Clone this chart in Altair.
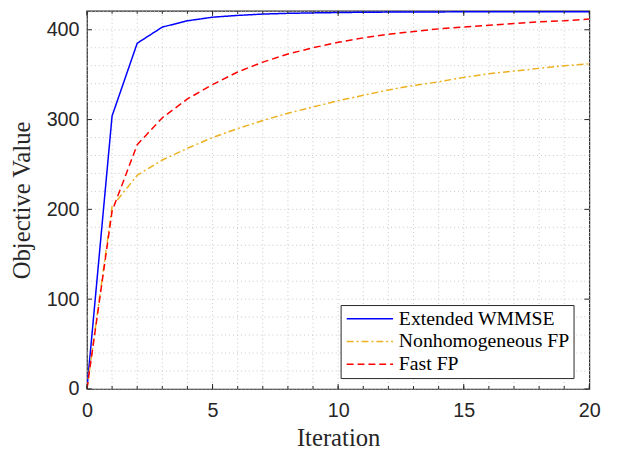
import altair as alt
import pandas as pd

iterations = list(range(21))
wmmse = [0, 304, 385, 403, 410, 414, 416, 417.5, 418.3, 418.8, 419.2, 419.5, 419.7, 419.8, 419.9, 420, 420, 420, 420, 420, 420]
nonhom = [0, 203, 238, 255, 268, 280, 290, 299, 307, 314, 321, 327, 333, 338, 342, 347, 351, 354, 357, 360, 362]
fastfp = [0, 198, 272, 302, 323, 339, 353, 364, 373, 380, 386, 391, 395, 398, 401, 403, 405, 407, 409, 410, 412]

series_names = ["Extended WMMSE", "Nonhomogeneous FP", "Fast FP"]
series_colors = ["#0000FF", "#EDB120", "#FF0000"]
series_dashes = [[1, 0], [7, 3, 2, 3], [7, 4]]

x_major = [0, 5, 10, 15, 20]
x_minor = list(range(21))
y_major = [0, 100, 200, 300, 400]
y_minor = list(range(0, 421, 20))

W, H = 509, 383

rows = []
for name, vals in zip(series_names, [wmmse, nonhom, fastfp]):
    for i, v in zip(iterations, vals):
        rows.append({"Iteration": i, "Value": v, "Series": name})
df = pd.DataFrame(rows)

xscale = alt.Scale(domain=[0, 20], nice=False, zero=False)
yscale = alt.Scale(domain=[0, 421], nice=False, zero=False)

tick_font = "Liberation Sans"
serif = "Liberation Serif"

x_axis = alt.Axis(values=x_major, grid=False, ticks=False, domain=False, labelFlush=False,
                  labelOverlap=False,
                  labelFont=tick_font, labelFontSize=20, labelColor="#262626",
                  labelPadding=12, title="Iteration", titleFont=serif,
                  titleFontSize=25, titleFontWeight="normal", titleColor="#262626",
                  titlePadding=5)
y_axis = alt.Axis(values=y_major, grid=False, ticks=False, domain=False, labelOverlap=False,
                  labelFont=tick_font, labelFontSize=20, labelColor="#262626",
                  labelPadding=8, title="Objective Value", titleFont=serif,
                  titleFontSize=25, titleFontWeight="normal", titleColor="#262626",
                  titlePadding=12)

legend_cfg = dict(orient="none", legendX=257, legendY=298, title=None,
                  symbolType="M-1,0H5", symbolSize=245,
                  symbolStrokeWidth=1.5, labelFont=serif,
                  labelFontSize=20, labelColor="#000000",
                  fillColor="white", strokeColor="#262626",
                  padding=4, rowPadding=3, labelOffset=35,
                  labelLimit=400)

xmaj = pd.DataFrame({"x": x_major})
xmin = pd.DataFrame({"x": x_minor})
ymaj = pd.DataFrame({"y": y_major})
ymin = pd.DataFrame({"y": y_minor})
tc = "#262626"
gc = "#c8c8c8"

grid_layers = [
    alt.Chart(xmin).mark_rule(color=gc, strokeWidth=1, strokeDash=[1, 3]).encode(
        x=alt.X("x:Q", scale=xscale, axis=x_axis), y=alt.value(0), y2=alt.value(H)),
    alt.Chart(ymin).mark_rule(color=gc, strokeWidth=1, strokeDash=[1, 3]).encode(
        y=alt.Y("y:Q", scale=yscale, axis=y_axis), x=alt.value(0), x2=alt.value(W)),
]

lines = alt.Chart(df).mark_line(strokeWidth=1.5, clip=True).encode(
    x=alt.X("Iteration:Q", scale=xscale, axis=x_axis),
    y=alt.Y("Value:Q", scale=yscale, axis=y_axis),
    color=alt.Color("Series:N", sort=series_names,
                    scale=alt.Scale(domain=series_names, range=series_colors),
                    legend=alt.Legend(**legend_cfg)),
    strokeDash=alt.StrokeDash("Series:N", sort=series_names,
                              scale=alt.Scale(domain=series_names, range=series_dashes),
                              legend=alt.Legend(**legend_cfg)),
)

tick_layers = [
    alt.Chart(xmaj).mark_rule(color=tc, strokeWidth=1).encode(
        x=alt.X("x:Q", scale=xscale, axis=x_axis), y=alt.value(H), y2=alt.value(H - 5)),
    alt.Chart(xmaj).mark_rule(color=tc, strokeWidth=1).encode(
        x=alt.X("x:Q", scale=xscale, axis=x_axis), y=alt.value(0), y2=alt.value(5)),
    alt.Chart(xmin).mark_rule(color=tc, strokeWidth=1).encode(
        x=alt.X("x:Q", scale=xscale, axis=x_axis), y=alt.value(H), y2=alt.value(H - 3)),
    alt.Chart(xmin).mark_rule(color=tc, strokeWidth=1).encode(
        x=alt.X("x:Q", scale=xscale, axis=x_axis), y=alt.value(0), y2=alt.value(3)),
    alt.Chart(ymaj).mark_rule(color=tc, strokeWidth=1).encode(
        y=alt.Y("y:Q", scale=yscale, axis=y_axis), x=alt.value(0), x2=alt.value(5)),
    alt.Chart(ymaj).mark_rule(color=tc, strokeWidth=1).encode(
        y=alt.Y("y:Q", scale=yscale, axis=y_axis), x=alt.value(W), x2=alt.value(W - 5)),
]

chart = alt.layer(*grid_layers, lines, *tick_layers).properties(
    width=W, height=H,
    autosize=alt.AutoSizeParams(type="none"),
    padding={"left": 80, "top": 0, "right": 26, "bottom": 66},
    background="white",
).configure_view(
    stroke="#262626", strokeWidth=1.2
)

chart.save("out.html", embed_options={"renderer": "svg", "actions": False})
